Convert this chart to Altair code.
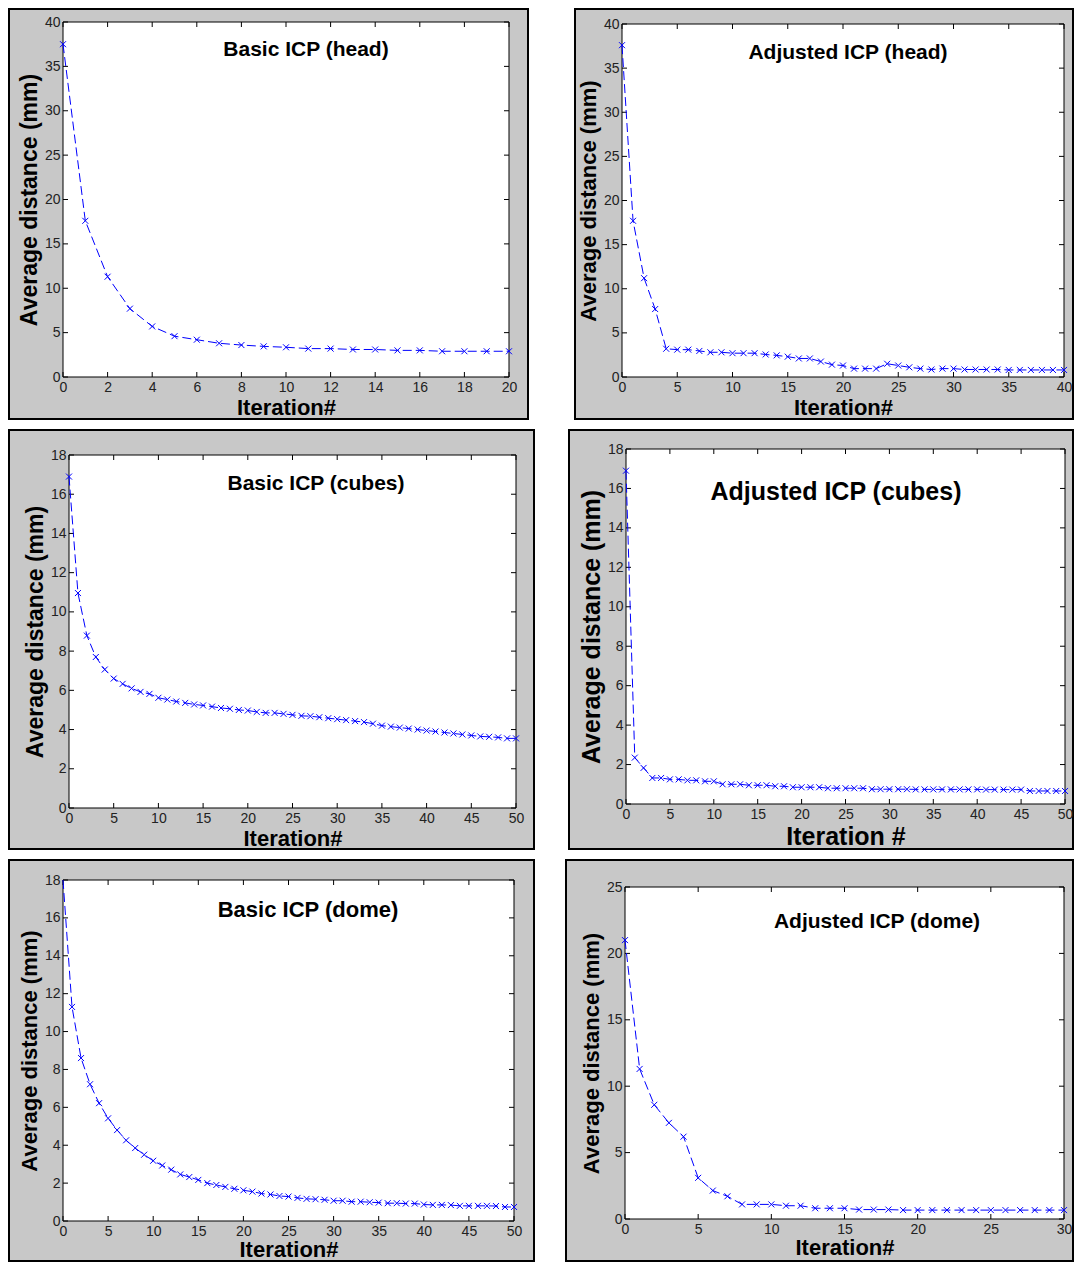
import altair as alt
import pandas as pd

# ---------------- data ----------------
# Basic ICP (head)
head_basic_dist = [37.5, 17.6, 11.3, 7.7, 5.7, 4.6, 4.2, 3.8, 3.6, 3.45, 3.35,
                   3.2, 3.2, 3.1, 3.1, 3.0, 3.0, 2.9, 2.9, 2.9, 2.9]
head_basic_xticks = [0, 2, 4, 6, 8, 10, 12, 14, 16, 18, 20]
head_basic_yticks = [0, 5, 10, 15, 20, 25, 30, 35, 40]

# Adjusted ICP (head)
head_adj_dist = [37.6, 17.7, 11.2, 7.7, 3.2, 3.1, 3.1, 2.95, 2.8, 2.8, 2.7,
                 2.7, 2.7, 2.55, 2.45, 2.3, 2.1, 2.1, 1.75, 1.4, 1.3,
                 0.95, 0.95, 0.95, 1.5, 1.3, 1.1, 0.95, 0.85, 0.95, 0.95,
                 0.85, 0.85, 0.85, 0.85, 0.8, 0.8, 0.8, 0.8, 0.8, 0.8]
head_adj_xticks = [0, 5, 10, 15, 20, 25, 30, 35, 40]
head_adj_yticks = [0, 5, 10, 15, 20, 25, 30, 35, 40]

# Basic ICP (cubes)
cubes_basic_dist = [16.9, 10.96, 8.79, 7.7, 7.06, 6.6, 6.33, 6.1, 5.92, 5.82, 5.62,
                    5.53, 5.43, 5.36, 5.28, 5.23, 5.17, 5.1, 5.06, 5.0, 4.97,
                    4.9, 4.85, 4.85, 4.8, 4.75, 4.7, 4.68, 4.63, 4.58, 4.53,
                    4.48, 4.43, 4.38, 4.3, 4.2, 4.15, 4.1, 4.05, 4.0, 3.95,
                    3.9, 3.85, 3.8, 3.75, 3.7, 3.65, 3.63, 3.6, 3.55, 3.55]
cubes_basic_xticks = [0, 5, 10, 15, 20, 25, 30, 35, 40, 45, 50]
cubes_basic_yticks = [0, 2, 4, 6, 8, 10, 12, 14, 16, 18]

# Adjusted ICP (cubes)
cubes_adj_dist = [16.9, 2.35, 1.83, 1.32, 1.32, 1.25, 1.25, 1.2, 1.2, 1.15, 1.15,
                  1.0, 1.0, 1.0, 0.95, 0.95, 0.95, 0.9, 0.9, 0.85, 0.85,
                  0.85, 0.85, 0.8, 0.8, 0.8, 0.8, 0.8, 0.75, 0.75, 0.75,
                  0.75, 0.75, 0.74, 0.74, 0.74, 0.74, 0.74, 0.74, 0.74, 0.74,
                  0.73, 0.73, 0.73, 0.73, 0.73, 0.66, 0.66, 0.66, 0.66, 0.66]
cubes_adj_xticks = [0, 5, 10, 15, 20, 25, 30, 35, 40, 45, 50]
cubes_adj_yticks = [0, 2, 4, 6, 8, 10, 12, 14, 16, 18]

# Basic ICP (dome)
dome_basic_dist = [19.5, 11.3, 8.6, 7.22, 6.22, 5.42, 4.8, 4.26, 3.85, 3.5, 3.18,
                   2.93, 2.71, 2.46, 2.32, 2.17, 2.0, 1.9, 1.8, 1.7, 1.62,
                   1.55, 1.45, 1.4, 1.32, 1.29, 1.22, 1.17, 1.15, 1.12, 1.07,
                   1.07, 1.02, 1.02, 0.99, 0.97, 0.94, 0.94, 0.92, 0.92, 0.87,
                   0.85, 0.85, 0.84, 0.8, 0.8, 0.8, 0.8, 0.79, 0.74, 0.74]
dome_basic_xticks = [0, 5, 10, 15, 20, 25, 30, 35, 40, 45, 50]
dome_basic_yticks = [0, 2, 4, 6, 8, 10, 12, 14, 16, 18]

# Adjusted ICP (dome)
dome_adj_dist = [21.0, 11.3, 8.6, 7.24, 6.2, 3.1, 2.14, 1.71, 1.1, 1.1, 1.1,
                 1.0, 1.0, 0.81, 0.81, 0.81, 0.71, 0.71, 0.71, 0.67, 0.67,
                 0.67, 0.67, 0.67, 0.67, 0.67, 0.67, 0.67, 0.67, 0.67, 0.67]
dome_adj_xticks = [0, 5, 10, 15, 20, 25, 30]
dome_adj_yticks = [0, 5, 10, 15, 20, 25]

FONT = "Liberation Sans"
BLUE = "#0000ff"
XSHAPE = "M-1,-1L1,1M-1,1L1,-1"


def panel(dist, xticks, yticks, title, W, H, box, tpos, tsize,
          xtitle="Iteration#", xtsize=22, ytsize=22, xpad=3, ypad=3):
    # box = margins of the grey frame around the plot area (left, right, top, bottom)
    L, R, T, B = box
    BW, BH = L + W + R, T + H + B
    df = pd.DataFrame({"iter": list(range(len(dist))), "dist": dist})
    xs = alt.Scale(domain=[xticks[0], xticks[-1]], nice=False, zero=False, range=[L, L + W])
    ys = alt.Scale(domain=[yticks[0], yticks[-1]], nice=False, zero=False,
                   range=[T + H, T], clamp=True)
    xaxis = alt.Axis(values=xticks, title=xtitle, grid=False, ticks=False, domain=False,
                     offset=-B,
                     labelFont=FONT, labelFontSize=14, labelColor="#222",
                     labelPadding=3, labelFlush=False, labelOverlap=False, format="d",
                     titleFont=FONT, titleFontSize=xtsize, titleFontWeight="bold",
                     titleColor="black", titlePadding=xpad, zindex=1)
    yaxis = alt.Axis(values=yticks, title="Average distance (mm)", grid=False, ticks=False,
                     domain=False, offset=-L,
                     labelFont=FONT, labelFontSize=14, labelColor="#222",
                     labelPadding=3, labelFlush=False, labelOverlap=False, format="d",
                     titleFont=FONT, titleFontSize=ytsize, titleFontWeight="bold",
                     titleColor="black", titlePadding=ypad, zindex=1)
    X = alt.X("iter:Q", scale=xs, axis=xaxis)
    Y = alt.Y("dist:Q", scale=ys, axis=yaxis)

    one = alt.Data(values=[{"k": 0}])
    white = alt.Chart(one).mark_rect(fill="white", stroke="black", strokeWidth=1).encode(
        x=alt.value(L), x2=alt.value(L + W), y=alt.value(T), y2=alt.value(T + H))

    xt = pd.DataFrame({"iter": xticks})
    yt = pd.DataFrame({"dist": yticks})
    xt_b = alt.Chart(xt).mark_rule(color="black", strokeWidth=1).encode(
        x=X, y=alt.value(T + H), y2=alt.value(T + H - 5))
    xt_t = alt.Chart(xt).mark_rule(color="black", strokeWidth=1).encode(
        x=X, y=alt.value(T), y2=alt.value(T + 5))
    yt_l = alt.Chart(yt).mark_rule(color="black", strokeWidth=1).encode(
        y=Y, x=alt.value(L), x2=alt.value(L + 5))
    yt_r = alt.Chart(yt).mark_rule(color="black", strokeWidth=1).encode(
        y=Y, x=alt.value(L + W), x2=alt.value(L + W - 5))

    line = alt.Chart(df).mark_line(color=BLUE, strokeWidth=1, strokeDash=[9, 4]).encode(
        x=X, y=Y)
    pts = alt.Chart(df).transform_filter(
        alt.datum.dist <= yticks[-1]
    ).mark_point(shape=XSHAPE, size=36, filled=False, color=BLUE,
                 strokeWidth=1, opacity=1).encode(x=X, y=Y)
    txt = alt.Chart(one).mark_text(text=title, font=FONT, fontSize=tsize, fontWeight="bold",
                                   color="black", align="center", baseline="middle").encode(
        x=alt.value(L + tpos[0]), y=alt.value(T + tpos[1]))
    return alt.layer(white, xt_b, xt_t, yt_l, yt_r, line, pts, txt).properties(
        width=BW, height=BH,
        view=alt.ViewConfig(fill="#c8c8c8", stroke="black", strokeWidth=2))


p1 = panel(head_basic_dist, head_basic_xticks, head_basic_yticks, "Basic ICP (head)",
           446, 355, (54, 19, 13, 42), (243, 28), 21, ytsize=23)
p2 = panel(head_adj_dist, head_adj_xticks, head_adj_yticks, "Adjusted ICP (head)",
           442, 353, (47, 9, 15, 42), (226, 29), 21, ytsize=22)
p3 = panel(cubes_basic_dist, cubes_basic_xticks, cubes_basic_yticks, "Basic ICP (cubes)",
           447, 353, (60, 18, 25, 41), (247, 29), 21, ytsize=23)
p4 = panel(cubes_adj_dist, cubes_adj_xticks, cubes_adj_yticks, "Adjusted ICP (cubes)",
           439, 355, (57, 8, 19, 45), (210, 43), 25, xtitle="Iteration #",
           xtsize=25, ytsize=25)
p5 = panel(dome_basic_dist, dome_basic_xticks, dome_basic_yticks, "Basic ICP (dome)",
           451, 341, (54, 20, 20, 40), (245, 30), 22, xpad=1)
p6 = panel(dome_adj_dist, dome_adj_xticks, dome_adj_yticks, "Adjusted ICP (dome)",
           439, 332, (59, 9, 27, 42), (252, 35), 21, xpad=1)

chart = alt.vconcat(
    alt.hconcat(p1, p2, spacing=45),
    alt.hconcat(p3, p4, spacing=33),
    alt.hconcat(p5, p6, spacing=30),
    spacing=9,
).properties(
    padding={"left": 0, "top": 0, "right": 0, "bottom": 0},
    background="white",
)

chart.save("out.html", embed_options={"renderer": "svg", "actions": False})
